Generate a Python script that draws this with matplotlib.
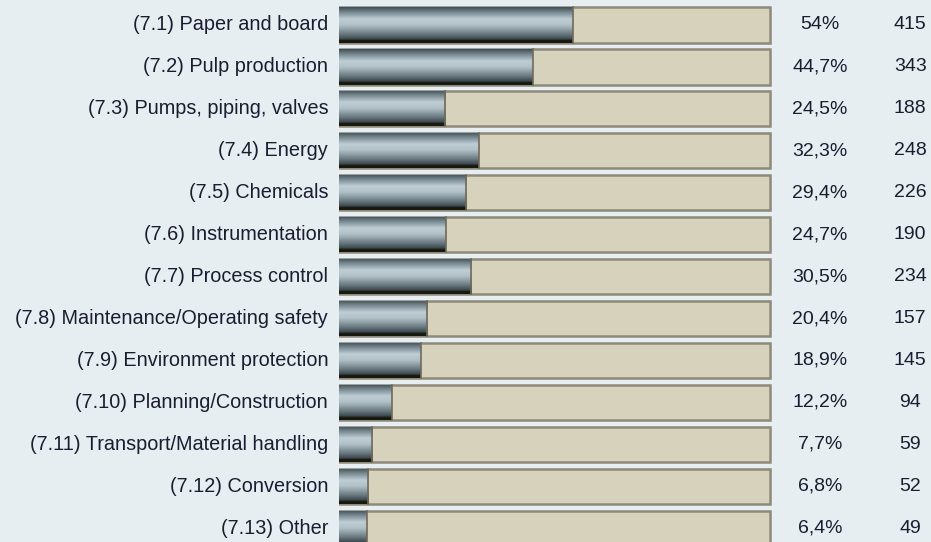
import numpy as np
import matplotlib.pyplot as plt
from matplotlib.colors import LinearSegmentedColormap

labels = ["(7.1) Paper and board", "(7.2) Pulp production", "(7.3) Pumps, piping, valves",
          "(7.4) Energy", "(7.5) Chemicals", "(7.6) Instrumentation", "(7.7) Process control",
          "(7.8) Maintenance/Operating safety", "(7.9) Environment protection",
          "(7.10) Planning/Construction", "(7.11) Transport/Material handling",
          "(7.12) Conversion", "(7.13) Other"]
percent = [54, 44.7, 24.5, 32.3, 29.4, 24.7, 30.5, 20.4, 18.9, 12.2, 7.7, 6.8, 6.4]
pct_text = ["54%", "44,7%", "24,5%", "32,3%", "29,4%", "24,7%", "30,5%",
            "20,4%", "18,9%", "12,2%", "7,7%", "6,8%", "6,4%"]
counts = [415, 343, 188, 248, 226, 190, 234, 157, 145, 94, 59, 52, 49]

plt.rcParams['font.family'] = ['Liberation Sans', 'DejaVu Sans']

bg = "#e6eef1"
fig = plt.figure(figsize=(9.31, 5.42), dpi=100, facecolor=bg)
ax = fig.add_axes([339 / 931, 0, 433 / 931, 1])
ax.set_facecolor(bg)
ax.axis("off")

y = np.arange(len(labels))
h = 0.84

# full-width beige track
ax.barh(y, 100, height=h, left=-0.5, color="#d6d2bb", edgecolor="#8f897a", linewidth=1.8, zorder=1)

# gray metallic bars with vertical gradient
cmap = LinearSegmentedColormap.from_list("metal", [
    (0.0, "#3f4f56"), (0.12, "#6f8089"), (0.33, "#bfcdd4"), (0.5, "#b2c1c8"),
    (0.75, "#6a7a81"), (0.9, "#3a464b"), (0.93, "#17190f"), (1.0, "#17190f")])
grad = np.linspace(0, 1, 100).reshape(-1, 1)
bars = ax.barh(y, percent, height=h, color="none", edgecolor="none", zorder=2)
for b in bars:
    x0, y0 = b.get_x(), b.get_y()
    im = ax.imshow(grad, cmap=cmap, aspect="auto", zorder=3,
                   extent=(x0, x0 + b.get_width(), y0 + h, y0), interpolation="bilinear")
    im.set_clip_path(b)
    ax.plot([x0 + b.get_width()] * 2, [y0, y0 + h], color="#6f6a5c", lw=1.2, zorder=4)

ax.set_ylim(12.33, -0.596)
ax.set_xlim(0, 100)

for i in range(len(labels)):
    ax.text(-2.5, i, labels[i], ha="right", va="center", fontsize=14.3, color="#1c1c30", clip_on=False)
    ax.text(111.1, i, pct_text[i], ha="center", va="center", fontsize=14, color="#1c1c30", clip_on=False)
    ax.text(131.9, i, str(counts[i]), ha="center", va="center", fontsize=14, color="#1c1c30", clip_on=False)

fig.savefig("out.png", dpi=100, facecolor=bg)
